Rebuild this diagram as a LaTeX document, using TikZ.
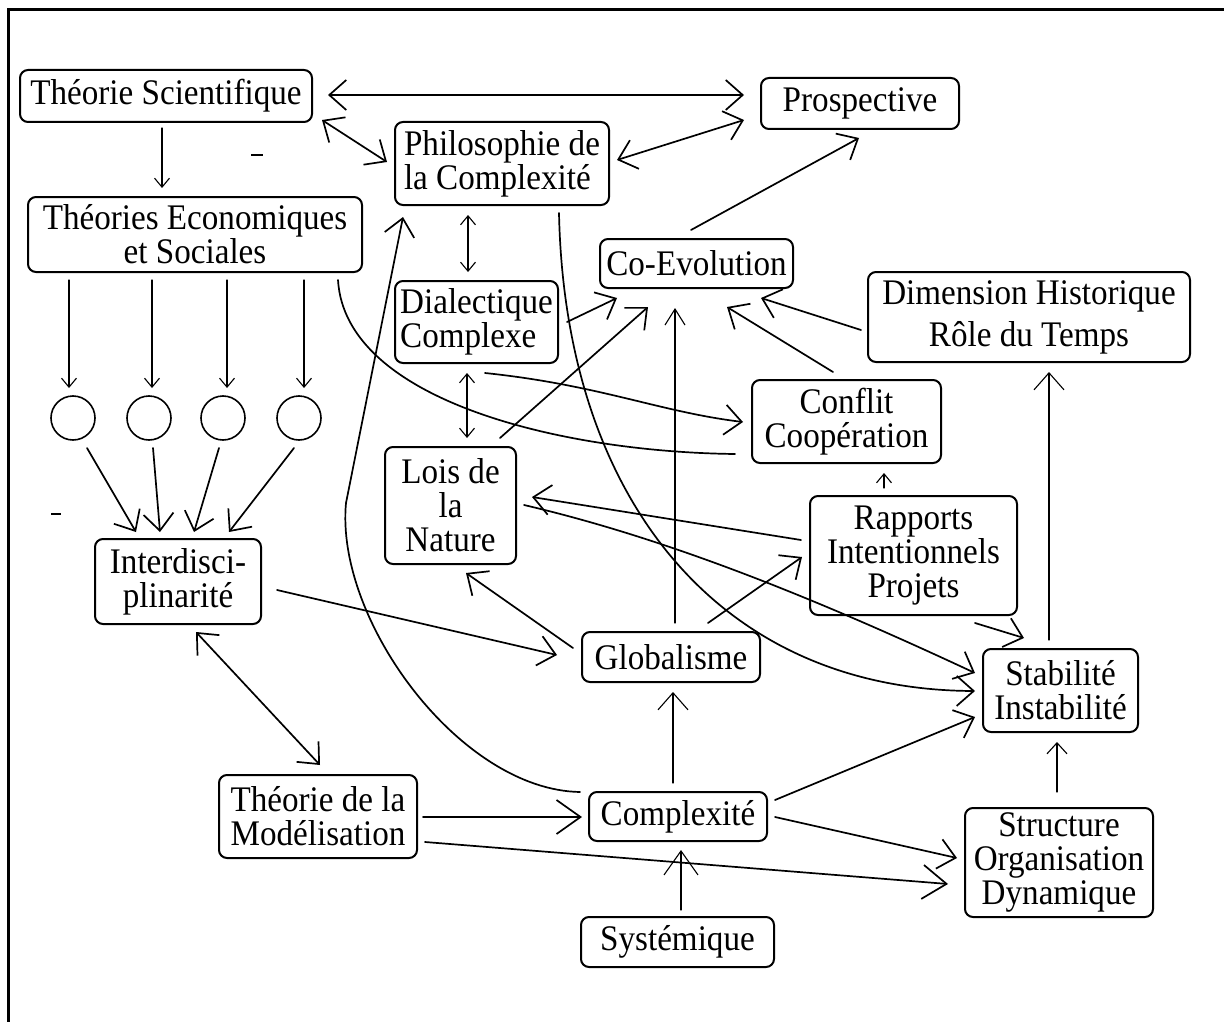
\documentclass[tikz,border=0pt]{standalone}
\usepackage{fontspec}
\setmainfont{Liberation Serif}
\newfontfamily\boxfont{Liberation Serif}[FakeStretch=0.92]
\usetikzlibrary{arrows.meta,calc}
\begin{document}
\begin{tikzpicture}[x=1pt,y=-1pt,
  box/.style={draw, line width=2pt, rounded corners=8pt, inner sep=0pt, align=center,
              font=\boxfont\fontsize{36}{34}\selectfont},
  lbox/.style={box, align=left},
  circ/.style={draw, circle, line width=1.6pt, minimum size=44pt, inner sep=0pt},
  con/.style={line width=1.7pt, line cap=round},
  thinl/.style={line width=1.1pt, line cap=round},
  abig/.style={arrows={-Straight Barb[length=17pt,width=30pt]}},
  axbig/.style={arrows={-Straight Barb[length=24pt,width=34pt]}},
  amid/.style={arrows={-Straight Barb[length=11pt,width=20pt]}},
  asmall/.style={arrows={-Straight Barb[length=9pt,width=15pt]}},
  anarrow/.style={arrows={-Straight Barb[length=16pt,width=20pt]}},
  dabig/.style={arrows={Straight Barb[length=17pt,width=30pt]-Straight Barb[length=17pt,width=30pt]}},
  dasmall/.style={arrows={Straight Barb[length=9pt,width=15pt]-Straight Barb[length=9pt,width=15pt]}},
]
\useasboundingbox (0,0) rectangle (1224,1022);
% frame
\draw[line width=3pt] (8,1022) -- (8,10) -- (1224,10);

% nodes
\node[box, minimum width=292pt, minimum height=52pt] (ts) at (166,96) {Théorie Scientifique};
\node[box, minimum width=198pt, minimum height=51pt] (pro) at (860,103.5) {Prospective};
\node[lbox, minimum width=214pt, minimum height=83pt] (phi) at (502,163.5) {Philosophie de\\la Complexité};
\node[box, minimum width=334pt, minimum height=75pt] (te) at (195,234.5) {Théories Economiques\\et Sociales};
\node[box, minimum width=193pt, minimum height=49pt] (coe) at (696.5,263.5) {Co-Evolution};
\node[box, minimum width=322pt, minimum height=90pt] (dim) at (1029,317) {Dimension Historique\\[8pt]Rôle du Temps};
\node[lbox, minimum width=163pt, minimum height=82pt] (dia) at (476.5,322) {Dialectique\\Complexe};
\node[box, minimum width=189pt, minimum height=83pt] (cfl) at (846.5,421.5) {Conflit\\Coopération};
\node[box, minimum width=131pt, minimum height=117pt] (loi) at (450.5,505.5) {Lois de\\la\\Nature};
\node[box, minimum width=207pt, minimum height=119pt] (rap) at (913.5,555.5) {Rapports\\Intentionnels\\Projets};
\node[box, minimum width=166pt, minimum height=85pt] (int) at (178,581.5) {Interdisci-\\plinarité};
\node[box, minimum width=178pt, minimum height=50pt] (glo) at (671,657) {Globalisme};
\node[box, minimum width=155pt, minimum height=83pt] (sta) at (1060.5,690.5) {Stabilité\\Instabilité};
\node[lbox, minimum width=198pt, minimum height=83pt] (tdm) at (318,816.5) {Théorie de la\\Modélisation};
\node[box, minimum width=178pt, minimum height=49pt] (cpx) at (678,816.5) {Complexité};
\node[box, minimum width=188pt, minimum height=109pt] (str) at (1059,862.5) {Structure\\Organisation\\Dynamique};
\node[box, minimum width=193pt, minimum height=50pt] (sys) at (677.5,942) {Systémique};
\node[circ] (c1) at (73,418) {};
\node[circ] (c2) at (149,418) {};
\node[circ] (c3) at (223,418) {};
\node[circ] (c4) at (299,418) {};

% stray marks
\draw[line width=2pt] (251,155) -- (263,155);
\draw[line width=2pt] (51,514) -- (61,514);

% connectors
\draw[con,dabig] ($(ts)+(162,-1)$) -- ($(pro)+(-116,-8.5)$);
\draw[con,dabig] ($(ts)+(156,24)$) -- ($(phi)+(-115,-1.5)$);
\draw[con,dabig] ($(phi)+(115,-3.5)$) -- ($(pro)+(-116,16.5)$);
\draw[thinl,asmall] ($(ts)+(-4,32)$) -- ($(te)+(-33,-46.5)$);
\draw[thinl,dasmall] ($(phi)+(-34,51.5)$) -- ($(dia)+(-8.5,-50)$);
\draw[con,abig] ($(coe)+(-5.5,-33.5)$) -- ($(pro)+(-1,34.5)$);
\draw[con,abig] ($(dia)+(90.5,0)$) -- ($(coe)+(-79.5,34.5)$);
\draw[con,abig] ($(loi)+(49.5,-67.5)$) -- ($(coe)+(-48.5,43.5)$);
\draw[thinl,anarrow] ($(glo)+(4,-34)$) -- ($(coe)+(-21.5,44.5)$);
\draw[con,abig] ($(cfl)+(-13.5,-49.5)$) -- ($(coe)+(30.5,43.5)$);
\draw[con,abig] ($(dim)+(-168,13)$) -- ($(coe)+(64.5,34.5)$);
\draw[thinl,abig] ($(sta)+(-11.5,-50.5)$) -- ($(dim)+(20,55)$);
\draw[thinl,dasmall] ($(dia)+(-9.5,51)$) -- ($(loi)+(16.5,-67.5)$);
\draw[con,abig] ($(dia)+(8.5,51)$) .. controls +(115,12) and +(-83,-10) .. ($(cfl)+(-103.5,0.5)$);
\draw[con] ($(te)+(143,45.5)$) .. controls +(7,120) and +(-175,-2) .. ($(cfl)+(-111.5,32.5)$);
\draw[con,abig] ($(phi)+(57,49.5)$) .. controls +(6,287) and +(-255,-1) .. ($(sta)+(-85.5,0.5)$);
\draw[con,abig] ($(cpx)+(-98,-24.5)$) .. controls +(-120,-2) and +(-11,117) .. ($(phi)+(-156,339.5)$) -- ($(phi)+(-99,53.5)$);
\draw[thinl,asmall] ($(te)+(-126,45.5)$) -- ($(c1)+(-4,-30)$);
\draw[thinl,asmall] ($(te)+(-43,45.5)$) -- ($(c2)+(3,-30)$);
\draw[thinl,asmall] ($(te)+(32,45.5)$) -- ($(c3)+(4,-30)$);
\draw[thinl,asmall] ($(te)+(109,45.5)$) -- ($(c4)+(5,-30)$);
\draw[con,abig] ($(c1)+(14,30)$) -- ($(int)+(-42,-49.5)$);
\draw[con,abig] ($(c2)+(4,30)$) -- ($(int)+(-18,-49.5)$);
\draw[con,abig] ($(c3)+(-4,30)$) -- ($(int)+(16,-49.5)$);
\draw[con,abig] ($(c4)+(-5,30)$) -- ($(int)+(51,-49.5)$);
\draw[con,abig] ($(int)+(99,8.5)$) -- ($(glo)+(-114,-2)$);
\draw[con,dabig] ($(int)+(18,50.5)$) -- ($(tdm)+(2,-51.5)$);
\draw[con,abig] ($(glo)+(-98,-9)$) -- ($(loi)+(15.5,67.5)$);
\draw[con,abig] ($(glo)+(37,-34)$) -- ($(rap)+(-111.5,1.5)$);
\draw[thinl,asmall] ($(rap)+(-29.5,-67.5)$) -- ($(cfl)+(37.5,51.5)$);
\draw[con,abig] ($(rap)+(-112.5,-15.5)$) -- ($(loi)+(81.5,-8.5)$);
\draw[con,abig] ($(loi)+(73.5,-0.5)$) .. controls +(150,35) and +(-150,-70) .. ($(sta)+(-85.5,-17.5)$);
\draw[con,abig] ($(rap)+(61.5,67.5)$) -- ($(sta)+(-36.5,-52.5)$);
\draw[con,abig] ($(cpx)+(97,-16.5)$) -- ($(sta)+(-85.5,26.5)$);
\draw[thinl,abig] ($(cpx)+(-5,-33.5)$) -- ($(glo)+(2,35)$);
\draw[thinl,axbig] ($(sys)+(3.5,-32)$) -- ($(cpx)+(3,33.5)$);
\draw[con,axbig] ($(tdm)+(105,0.5)$) -- ($(cpx)+(-96,0.5)$);
\draw[con,abig] ($(cpx)+(97,0.5)$) -- ($(str)+(-102,-4.5)$);
\draw[con,axbig] ($(tdm)+(107,25.5)$) -- ($(str)+(-111,21.5)$);
\draw[thinl,amid] ($(str)+(-2,-70.5)$) -- ($(sta)+(-3.5,51.5)$);
\end{tikzpicture}
\end{document}
